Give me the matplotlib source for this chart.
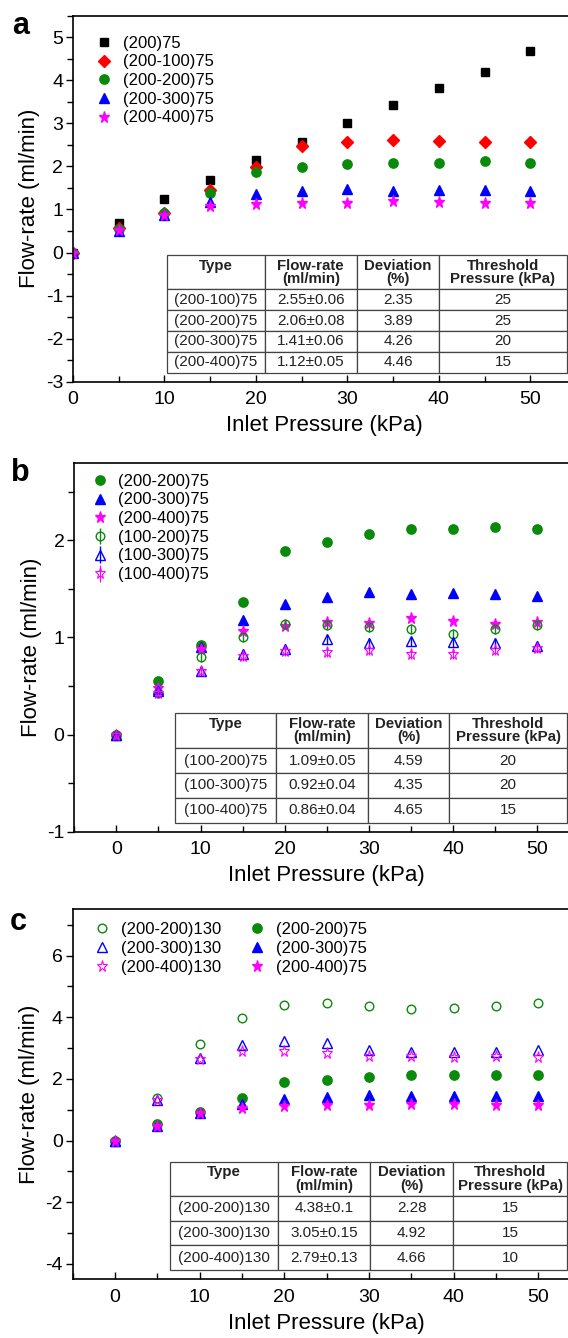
import numpy as np
import matplotlib
matplotlib.use("Agg")
import matplotlib.pyplot as plt
from matplotlib.ticker import MultipleLocator

plt.rcParams['font.family'] = ['Liberation Sans', 'DejaVu Sans']
plt.rcParams['axes.unicode_minus'] = False

# ---- data ----
pressure = [0, 5, 10, 15, 20, 25, 30, 35, 40, 45, 50]

# panel a
a_200_75 = [0, 0.68, 1.25, 1.68, 2.14, 2.56, 3.0, 3.43, 3.81, 4.19, 4.67]
a_200_100_75 = [0, 0.58, 0.91, 1.45, 1.98, 2.47, 2.57, 2.61, 2.59, 2.57, 2.57]
a_200_200_75 = [0, 0.55, 0.91, 1.38, 1.88, 1.98, 2.05, 2.09, 2.09, 2.12, 2.09]
a_200_300_75 = [0, 0.50, 0.88, 1.17, 1.35, 1.42, 1.47, 1.44, 1.46, 1.45, 1.42]
a_200_400_75 = [0, 0.52, 0.88, 1.07, 1.12, 1.16, 1.15, 1.20, 1.17, 1.14, 1.16]

# panel b (and the 75 series of panel c)
b_200_200_75 = [0, 0.55, 0.92, 1.37, 1.89, 1.98, 2.07, 2.12, 2.12, 2.14, 2.12]
b_200_300_75 = [0, 0.47, 0.90, 1.18, 1.35, 1.42, 1.47, 1.45, 1.46, 1.45, 1.43]
b_200_400_75 = [0, 0.48, 0.88, 1.07, 1.12, 1.16, 1.15, 1.20, 1.17, 1.14, 1.16]
b_100_200_75 = [0, 0.43, 0.80, 1.00, 1.14, 1.13, 1.11, 1.09, 1.04, 1.09, 1.13]
b_100_300_75 = [0, 0.45, 0.65, 0.83, 0.88, 0.98, 0.94, 0.96, 0.95, 0.94, 0.91]
b_100_400_75 = [0, 0.43, 0.66, 0.81, 0.86, 0.85, 0.87, 0.83, 0.83, 0.87, 0.89]
b_err = 0.05

# panel c
c_200_200_130 = [0, 1.37, 3.12, 3.98, 4.39, 4.45, 4.37, 4.28, 4.30, 4.36, 4.45]
c_200_300_130 = [0, 1.30, 2.68, 3.10, 3.22, 3.17, 2.94, 2.87, 2.88, 2.88, 2.95]
c_200_400_130 = [0, 1.30, 2.65, 2.90, 2.90, 2.83, 2.74, 2.74, 2.72, 2.74, 2.72]

# tables
table_head = ["Type\n ", "Flow-rate\n(ml/min)", "Deviation\n(%)", "Threshold\nPressure (kPa)"]
tab_a = [["(200-100)75", "2.55\u00b10.06", "2.35", "25"],
         ["(200-200)75", "2.06\u00b10.08", "3.89", "25"],
         ["(200-300)75", "1.41\u00b10.06", "4.26", "20"],
         ["(200-400)75", "1.12\u00b10.05", "4.46", "15"]]
tab_b = [["(100-200)75", "1.09\u00b10.05", "4.59", "20"],
         ["(100-300)75", "0.92\u00b10.04", "4.35", "20"],
         ["(100-400)75", "0.86\u00b10.04", "4.65", "15"]]
tab_c = [["(200-200)130", "4.38\u00b10.1", "2.28", "15"],
         ["(200-300)130", "3.05\u00b10.15", "4.92", "15"],
         ["(200-400)130", "2.79\u00b10.13", "4.66", "10"]]

GREEN, BLUE, MAG, RED = "#0a8a0a", "#0000ff", "#ff00ff", "#ff0000"

W, H = 568, 1338
fig = plt.figure(figsize=(W / 100, H / 100), dpi=100)


def px_axes(left, top, right, bottom):
    return fig.add_axes([left / W, 1 - bottom / H, (right - left) / W, (bottom - top) / H])


def style(ax, ymaj, ymin):
    ax.xaxis.set_major_locator(MultipleLocator(10))
    ax.xaxis.set_minor_locator(MultipleLocator(5))
    ax.yaxis.set_major_locator(MultipleLocator(ymaj))
    ax.yaxis.set_minor_locator(MultipleLocator(ymin))
    ax.tick_params(axis='x', which='both', direction='in', labelsize=14, pad=7)
    ax.tick_params(axis='y', which='both', direction='out', labelsize=14, pad=2)
    ax.tick_params(which='major', length=5, width=1)
    ax.tick_params(which='minor', length=4, width=1)
    for s in ax.spines.values():
        s.set_linewidth(1.2)
    ax.set_xlabel("Inlet Pressure (kPa)", fontsize=16, labelpad=5)
    ax.set_ylabel("Flow-rate (ml/min)", fontsize=16, labelpad=4)


def add_table(ax, rows, bbox, colw, head_ratio):
    tb = ax.table(cellText=rows, colLabels=table_head, colWidths=colw,
                  cellLoc='center', bbox=bbox)
    tb.auto_set_font_size(False)
    for (r, c), cell in tb.get_celld().items():
        cell.set_edgecolor('#444444')
        cell.set_linewidth(0.9)
        cell.get_text().set_fontsize(11)
        cell.get_text().set_color('#222222')
        if r == 0:
            cell.set_height(cell.get_height() * head_ratio)
            cell.get_text().set_fontweight('bold')
            cell.get_text().set_fontsize(10.8)
            cell.get_text().set_linespacing(0.95)
    return tb


def legend(ax, anchor, ncol=1):
    ax.legend(loc='upper left', bbox_to_anchor=anchor, frameon=False, fontsize=12, ncol=ncol,
              borderpad=0, borderaxespad=0, handlelength=1.0, handletextpad=0.6,
              labelspacing=0.22, columnspacing=1.7)


ms = 6.2

# ---------------- panel a ----------------
ax = px_axes(73, 15.7, 576, 381.7)
ax.plot(pressure, a_200_75, 's', color='black', ms=ms, label="(200)75")
ax.plot(pressure, a_200_100_75, 'D', color=RED, ms=ms, label="(200-100)75")
ax.plot(pressure, a_200_200_75, 'o', color=GREEN, ms=ms + 0.5, label="(200-200)75")
ax.plot(pressure, a_200_300_75, '^', color=BLUE, ms=ms + 0.5, label="(200-300)75")
ax.plot(pressure, a_200_400_75, '*', color=MAG, ms=ms + 2, label="(200-400)75")
ax.set_xlim(0, 55)
ax.set_ylim(-3, 5.5)
style(ax, 1, 0.5)
legend(ax, (0.046, 0.945))
add_table(ax, tab_a, [0.187, 0.0246, 0.795, 0.3204], [97.5, 92.5, 82, 128], 1.63)
fig.text(21 / W, 1 - 26 / H, "a", fontsize=22, fontweight='bold', ha='center', va='center')

# ---------------- panel b ----------------
ax = px_axes(74.3, 462.7, 579.3, 831.7)
ax.plot(pressure, b_200_200_75, 'o', color=GREEN, ms=ms + 0.5, label="(200-200)75")
ax.plot(pressure, b_200_300_75, '^', color=BLUE, ms=ms + 0.5, label="(200-300)75")
ax.plot(pressure, b_200_400_75, '*', color=MAG, ms=ms + 2, label="(200-400)75")
ax.errorbar(pressure, b_100_200_75, yerr=b_err, fmt='o', mfc='none', mec=GREEN, ecolor=GREEN,
            ms=ms, elinewidth=1, capsize=0, label="(100-200)75")
ax.errorbar(pressure, b_100_300_75, yerr=b_err, fmt='^', mfc='none', mec=BLUE, ecolor=BLUE,
            ms=ms + 0.5, elinewidth=1, capsize=0, label="(100-300)75")
ax.errorbar(pressure, b_100_400_75, yerr=b_err, fmt='*', mfc='none', mec=MAG, ecolor=MAG,
            ms=ms + 2, mew=0.8, elinewidth=0.8, capsize=0, label="(100-400)75")
ax.set_xlim(-5, 55)
ax.set_ylim(-1, 2.8)
style(ax, 1, 0.5)
legend(ax, (0.034, 0.97))
add_table(ax, tab_b, [0.1986, 0.0244, 0.777, 0.2966], [101.8, 92.1, 80.8, 117.7], 1.41)
fig.text(20 / W, 1 - 473 / H, "b", fontsize=22, fontweight='bold', ha='center', va='center')

# ---------------- panel c ----------------
ax = px_axes(72.5, 909.3, 580.5, 1279.3)
ax.plot(pressure, c_200_200_130, 'o', mfc='none', mec=GREEN, ms=ms, label="(200-200)130")
ax.plot(pressure, c_200_300_130, '^', mfc='none', mec=BLUE, ms=ms + 0.5, label="(200-300)130")
ax.plot(pressure, c_200_400_130, '*', mfc='none', mec=MAG, ms=ms + 2, mew=0.8, label="(200-400)130")
ax.plot(pressure, b_200_200_75, 'o', color=GREEN, ms=ms + 0.5, label="(200-200)75")
ax.plot(pressure, b_200_300_75, '^', color=BLUE, ms=ms + 0.5, label="(200-300)75")
ax.plot(pressure, b_200_400_75, '*', color=MAG, ms=ms + 2, label="(200-400)75")
ax.set_xlim(-5, 55)
ax.set_ylim(-4.5, 7.5)
style(ax, 2, 1)
legend(ax, (0.042, 0.965), ncol=2)
add_table(ax, tab_c, [0.1925, 0.025, 0.781, 0.293], [108, 92, 82.6, 114], 1.39)
fig.text(18 / W, 1 - 922 / H, "c", fontsize=22, fontweight='bold', ha='center', va='center')

fig.savefig("out.png", dpi=100)
